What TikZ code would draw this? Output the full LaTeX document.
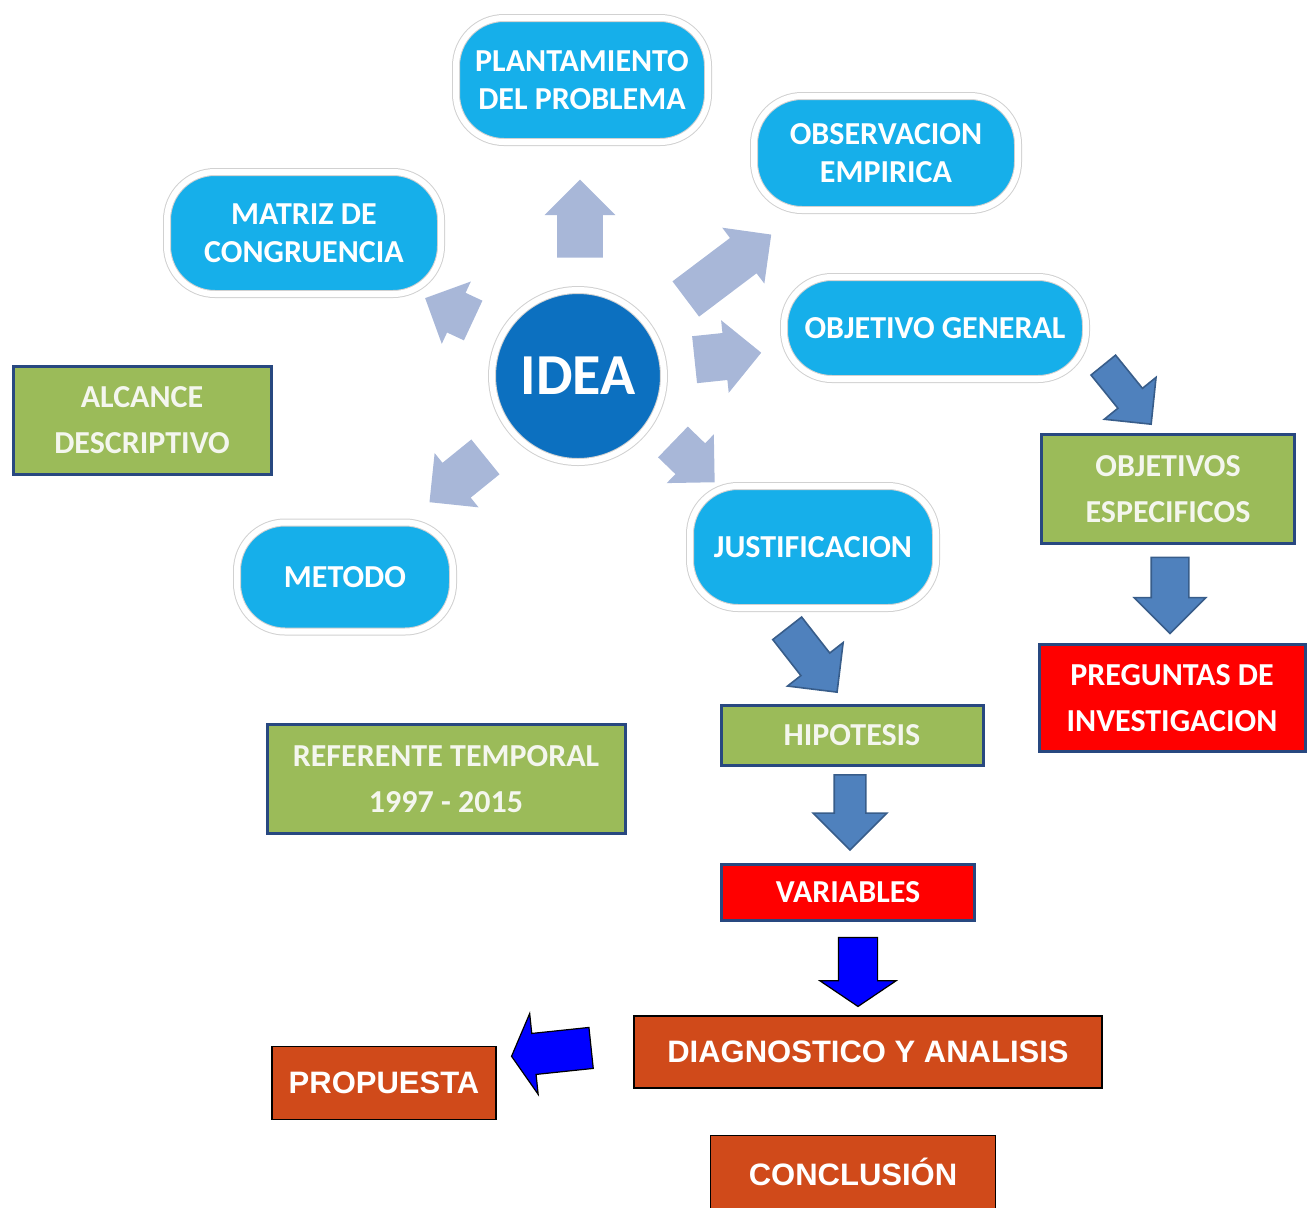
\documentclass[tikz,border=0pt]{standalone}
\usepackage{fontspec}
\setmainfont{Carlito}
\newfontfamily\arialfont{Liberation Sans}
\usepackage{tikz}
\usetikzlibrary{shapes,shapes.arrows,calc,positioning,shadows}
\definecolor{pillcyan}{RGB}{22,175,234}
\definecolor{ideablue}{RGB}{12,112,192}
\definecolor{boxgreen}{RGB}{155,187,89}
\definecolor{boxline}{RGB}{40,72,128}
\definecolor{boxred}{RGB}{255,0,0}
\definecolor{boxorange}{RGB}{208,74,26}
\definecolor{softblue}{RGB}{168,183,216}
\definecolor{steelfill}{RGB}{79,129,189}
\definecolor{steelline}{RGB}{56,93,138}
\definecolor{pureblue}{RGB}{0,0,255}
\definecolor{greentext}{RGB}{244,246,238}

\begin{document}
\begin{tikzpicture}[
    x=0.5pt, y=-0.5pt,
    pill/.style={draw=black!18, line width=0.5pt, double=white, double distance=3pt,
        fill=pillcyan, rounded corners=24pt, text=white, align=center, inner sep=0pt,
        font=\bfseries\fontsize{16}{19}\selectfont,
        drop shadow={shadow xshift=0.5pt, shadow yshift=-1.5pt, opacity=0.2}},
    greenbox/.style={draw=boxline, line width=1.5pt, fill=boxgreen, text=greentext,
        align=center, inner sep=0pt, font=\bfseries\fontsize{16}{23}\selectfont},
    redbox/.style={greenbox, fill=boxred, text=white},
    orangebox/.style={draw=black, line width=0.8pt, fill=boxorange, text=white,
        inner sep=0pt, font=\arialfont\bfseries\fontsize{15.5}{18}\selectfont},
    softarrow/.style={single arrow, fill=softblue, draw=none, inner xsep=0pt,
        inner ysep=11.25pt, single arrow head extend=6.25pt, minimum width=35pt},
    steelarrow/.style={single arrow, fill=steelfill, draw=steelline, line width=0.8pt,
        inner xsep=0pt, inner ysep=8.5pt, single arrow head extend=8.5pt, minimum width=35pt},
    bluearrow/.style={single arrow, fill=pureblue, draw=black, line width=0.6pt,
        inner xsep=0pt, inner ysep=9.5pt, single arrow tip angle=112,
        single arrow head extend=9.25pt, minimum width=37.5pt}
]
\useasboundingbox (0,0) rectangle (1314,1207);

% Central idea and the rounded stages
\node[circle, draw=black!18, line width=0.5pt, double=white, double distance=3pt,
    fill=ideablue, minimum size=86pt, text=white, font=\bfseries\fontsize{29}{34}\selectfont,
    drop shadow={shadow xshift=0.5pt, shadow yshift=-1.5pt, opacity=0.2}] (idea) at (578,376) {IDEA};
\node[pill, minimum width=126pt, minimum height=62pt] (plant) at (582,80) {PLANTAMIENTO\\DEL PROBLEMA};
\node[pill, minimum width=132pt, minimum height=57pt] (obs) at (886,153) {OBSERVACION\\EMPIRICA};
\node[pill, minimum width=137pt, minimum height=61pt] (matriz) at (304,233) {MATRIZ DE\\CONGRUENCIA};
\node[pill, minimum width=151pt, minimum height=51pt] (objgen) at (935,328) {OBJETIVO GENERAL};
\node[pill, minimum width=108pt, minimum height=54.5pt] (metodo) at (345,577) {METODO};
\node[pill, minimum width=123pt, minimum height=61pt] (justif) at (813,547) {JUSTIFICACION};

% Rectangular boxes
\node[greenbox, minimum width=129pt, minimum height=54pt] (alcance) at (142,420) {ALCANCE\\DESCRIPTIVO};
\node[greenbox, minimum width=126.5pt, minimum height=54.5pt] (objesp) at (1168,489) {OBJETIVOS\\ESPECIFICOS};
\node[redbox, minimum width=133pt, minimum height=53.5pt] (preg) at (1172,698) {PREGUNTAS DE\\INVESTIGACION};
\node[greenbox, minimum width=131pt, minimum height=30pt] (hipo) at (852,735) {HIPOTESIS};
\node[greenbox, minimum width=179pt, minimum height=54.5pt] (refer) at (446,779) {REFERENTE TEMPORAL\\1997 - 2015};
\node[redbox, minimum width=126.5pt, minimum height=28pt] (vars) at (848,892) {VARIABLES};
\node[orangebox, minimum width=234pt, minimum height=36pt] (diag) at (868,1052) {DIAGNOSTICO Y ANALISIS};
\node[orangebox, minimum width=112pt, minimum height=36.5pt] (prop) at (384,1083) {PROPUESTA};
\node[orangebox, minimum width=142.5pt, minimum height=36.5pt] (concl) at (853,1172) {CONCLUSIÓN};

% Arrows leaving the idea
\node[softarrow, rotate=90, minimum height=39pt] (aplant) at ($(idea)!0.493!(plant)$) {};
\node[softarrow, rotate=37, minimum height=53.5pt, inner ysep=10.5pt] (aobs) at ($(idea)!0.46!(obs)$) {};
\node[softarrow, rotate=6, minimum height=33.5pt, minimum width=36.5pt] (aobj) at ($(idea)!0.387!(objgen)$) {};
\node[softarrow, rotate=-44, minimum height=29pt, minimum width=33pt, inner ysep=10.5pt] (ajust) at ($(idea)!0.46!(justif)$) {};
\node[softarrow, rotate=219, minimum height=36pt, minimum width=34.5pt, inner ysep=11pt] (amet) at ($(idea)!0.48!(metodo)$) {};
\node[softarrow, rotate=155, minimum height=26.5pt, minimum width=34pt, inner ysep=10.75pt] (amat) at ($(idea)!0.434!(matriz)$) {};

% Arrows down the chains
\node[steelarrow, rotate=-51, minimum height=38pt, minimum width=32.5pt, inner ysep=7.5pt,
    single arrow head extend=8.75pt] (aesp) at ($(objgen.east)!0.5!(objesp.north)+(-5,8)$) {};
\node[steelarrow, rotate=-90, minimum height=38pt, inner ysep=9pt] (apreg) at ($(objesp.south)!0.5!(preg.north)+(0,-8)$) {};
\node[steelarrow, rotate=-52, minimum height=40.5pt, inner ysep=8.75pt] (ahipo) at ($(justif.south)!0.5!(hipo.north)+(-26,-3)$) {};
\node[steelarrow, rotate=-90, minimum height=37.5pt, minimum width=36pt, inner ysep=7.5pt,
    single arrow head extend=10.5pt] (avars) at ($(hipo.south)!0.5!(vars.north)+(0,-10)$) {};
\node[bluearrow, rotate=-90, minimum height=34.5pt] (adiag) at ($(vars.south)!0.5!(diag.north)+(0,-3)$) {};
\node[bluearrow, rotate=186, minimum height=40pt, minimum width=40pt, inner ysep=10pt,
    single arrow head extend=10pt, single arrow tip angle=122] (aprop) at ($(diag.west)!0.5!(prop.east)+(-8,-16)$) {};

\end{tikzpicture}
\end{document}
